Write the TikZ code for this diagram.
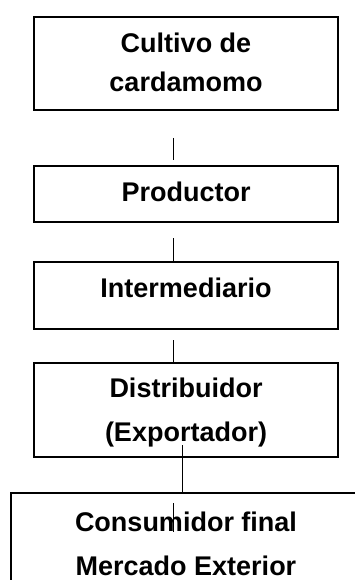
\documentclass[tikz,border=0pt]{standalone}
\usepackage{fontspec}
\setmainfont{Liberation Sans}
\begin{document}
\begin{tikzpicture}[x=1pt,y=-1pt,
  box/.style={draw=black,line width=1.4pt,inner sep=0pt,minimum width=304pt},
  lbl/.style={font=\fontsize{27}{32}\selectfont\bfseries,inner sep=0pt,anchor=center},
  conn/.style={draw=black,line width=1pt}]
\useasboundingbox (0,0) rectangle (354,580);
% boxes
\node[box,minimum height=93pt] (b1) at (186,63.5) {};
\node[box,minimum height=56pt] (b2) at (186,194) {};
\node[box,minimum height=67pt] (b3) at (186,295.5) {};
\node[box,minimum height=94pt] (b4) at (186,410) {};
\node[box,minimum width=351pt,minimum height=107pt] (b5) at (186.5,546.5) {};
% texts
\node[lbl] (t1a) at (186,43) {Cultivo de};
\node[lbl] (t1b) at (186,82) {cardamomo};
\node[lbl] (t2) at (186,192) {Productor};
\node[lbl] (t3) at (186,288) {Intermediario};
\node[lbl] (t4a) at (186,388) {Distribuidor};
\node[lbl] (t4b) at (186,435) {(Exportador)};
\node[lbl] (t5a) at (186,522) {Consumidor final};
\node[lbl] (t5b) at (186,566) {Mercado Exterior};
% connectors
\coordinate (c1a) at (173,138); \coordinate (c1b) at (173,160);
\coordinate (c2a) at (173,238); \coordinate (c2b) at (173,261);
\coordinate (c3a) at (173,340); \coordinate (c3b) at (173,362);
\coordinate (c4a) at (182,445);
\coordinate (c5a) at (173,503); \coordinate (c5b) at (173,532);
\draw[conn] (c1a) -- (c1b);
\draw[conn] (c2a) -- (c2b);
\draw[conn] (c3a) -- (c3b);
\draw[conn] (c4a) -- (b5.north -| c4a);
\draw[conn] (c5a) -- (c5b);
\end{tikzpicture}
\end{document}
